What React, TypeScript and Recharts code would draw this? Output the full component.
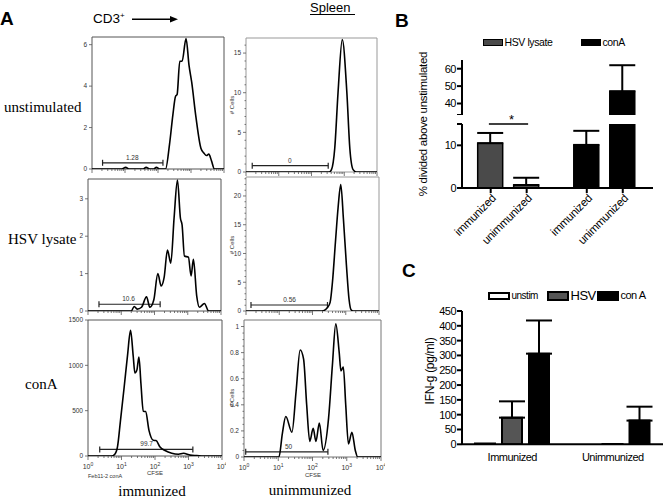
import React from "react";
import {
  LineChart,
  Line,
  XAxis,
  YAxis,
  ReferenceArea,
  ReferenceLine,
  ReferenceDot,
  BarChart,
  Bar,
  Cell,
  ErrorBar,
  Legend,
} from "recharts";

const SANS = "Liberation Sans, Arial, sans-serif";
const SERIF = "Liberation Serif, Times New Roman, serif";

// ---- Panel A: CFSE histograms, [log10(CFSE), # cells] ----
const unstimImmunized: [number, number][] = [
  [0, 0], [0.9, 0], [1.02, 0.08], [1.12, 0], [1.55, 0], [1.64, 0.08], [1.75, 0], [1.87, 0],
  [1.95, 0.08], [2.05, 0], [2.23, 0], [2.35, 1.2], [2.45, 2.6], [2.53, 3.5], [2.58, 3.6],
  [2.66, 5.2], [2.73, 5.2], [2.85, 6.3], [2.94, 5.0], [3.02, 4.2], [3.15, 2.5], [3.3, 1.0],
  [3.39, 0.77], [3.47, 0.65], [3.54, 0.72], [3.62, 0.4], [3.71, 0], [4, 0],
];
const hsvImmunized: [number, number][] = [
  [0, 0], [1.3, 0], [1.39, 0.12], [1.48, 0.05], [1.61, 0.1], [1.76, 0.38], [1.86, 0.1],
  [1.98, 0.3], [2.1, 1.0], [2.2, 0.67], [2.29, 0.9], [2.39, 1.63], [2.49, 1.28], [2.59, 2.5],
  [2.69, 3.5], [2.78, 2.48], [2.83, 2.3], [2.9, 1.47], [3.02, 1.44], [3.1, 0.94], [3.17, 1.38],
  [3.27, 0.4], [3.35, 0.1], [3.5, 0.2], [3.63, 0], [4, 0],
];
const conAImmunized: [number, number][] = [
  [0, 0], [0.7, 0], [0.8, 20], [0.88, 100], [0.97, 393], [1.08, 761], [1.18, 1110],
  [1.27, 1386], [1.35, 1100], [1.4, 915], [1.46, 950], [1.52, 1092], [1.58, 800], [1.65, 493],
  [1.72, 490], [1.82, 283], [1.95, 173], [2.03, 170], [2.15, 100], [2.3, 60], [2.5, 30],
  [2.7, 20], [2.85, 30], [3.05, 10], [3.25, 5], [3.45, 0], [4, 0],
];
const unstimUnimmunized: [number, number][] = [
  [0, 0], [2.54, 0], [2.61, 0.3], [2.71, 3], [2.81, 10], [2.94, 16.7], [3.08, 10], [3.17, 3],
  [3.27, 0.3], [3.37, 0], [4, 0],
];
const hsvUnimmunized: [number, number][] = [
  [0, 0], [2.28, 0], [2.38, 0.2], [2.45, 0.6], [2.53, 1.5], [2.6, 5], [2.69, 12], [2.77, 18],
  [2.85, 22], [2.93, 16], [3.02, 8], [3.1, 2], [3.16, 0.2], [3.22, 0], [4, 0],
];
const conAUnimmunized: [number, number][] = [
  [0, 0], [1.02, 0], [1.12, 0.18], [1.22, 0.31], [1.4, 0.19], [1.52, 0.5], [1.64, 0.82],
  [1.74, 0.75], [1.83, 0.4], [1.92, 0.12], [2.02, 0.22], [2.1, 0.12], [2.2, 0.26], [2.31, 0.05],
  [2.47, 0.3], [2.58, 0.7], [2.68, 1.02], [2.78, 0.8], [2.83, 0.66], [2.9, 0.69], [2.97, 0.4],
  [3.05, 0.1], [3.15, 0.19], [3.25, 0.05], [3.32, 0], [4, 0],
];
// gates: [from, to, level, label, label position]
const gates = {
  unstimImm: [0.32, 2.15, 0.3, "1.28", 1.22],
  hsvImm: [0.33, 2.17, 0.18, "10.6", 1.22],
  conAImm: [0.35, 3.13, 73, "99.7", 1.75],
  unstimUnimm: [0.19, 2.51, 0.8, "0", 1.34],
  hsvUnimm: [0.15, 2.45, 1.04, "0.56", 1.31],
  conAUnimm: [0.05, 2.45, 0.04, "50", 1.3],
} as const;

const logMajors = [0, 1, 2, 3, 4];
const logMinors: number[] = [];
for (let d = 0; d < 4; d++) for (let k = 2; k <= 9; k++) logMinors.push(d + Math.log10(k));

// ---- Panel B ----
const bCats = ["immunized", "unimmunized", "immunized", "unimmunized"];
const bPos = [1, 2, 3.67, 4.67];
const bValues = [10.5, 0.7, 10.1, 47];
const bErrors = [2.4, 1.7, 3.3, 15];
const bColors = ["#4a4a4a", "#4a4a4a", "#000000", "#000000"];
const bLegend = ["HSV lysate", "conA"];
const bLegendColors = ["#4a4a4a", "#000000"];

// ---- Panel C ----
const cGroups = ["Immunized", "Unimmunized"];
const cUnstim = [3, 0];
const cHsv = [90, 1];
const cConA = [306, 80];
const cHsvErr = [55, 0];
const cConAErr = [112, 47];

function LogTick(props: any) {
  const { x, y, payload, showLabel } = props;
  const v = payload.value;
  const major = Math.abs(v - Math.round(v)) < 1e-6;
  return (
    <g>
      <line x1={x} x2={x} y1={y} y2={y + (major ? 4 : 2)} stroke="#555" strokeWidth={0.8} />
      {showLabel && major && (
        <text x={x} y={y + 13} textAnchor="middle" fontSize={7} fill="#333" fontFamily={SANS}>
          10
          <tspan dy={-3} fontSize={5}>
            {Math.round(v)}
          </tspan>
        </text>
      )}
    </g>
  );
}

function YTick(props: any) {
  const { x, y, payload, majors, fmt } = props;
  const v = payload.value;
  const major = majors.some((m: number) => Math.abs(m - v) < 1e-9);
  return (
    <g>
      <line x1={x - (major ? 3 : 1.5)} x2={x} y1={y} y2={y} stroke="#555" strokeWidth={0.8} />
      {major && (
        <text x={x - 5} y={y} dy="0.35em" textAnchor="end" fontSize={6.5} fill="#333" fontFamily={SANS}>
          {fmt ? fmt(v) : String(v)}
        </text>
      )}
    </g>
  );
}

type HistProps = {
  frame: { x0: number; x1: number; y0: number; y1: number };
  ymax: number;
  majors: number[];
  minorStep?: number;
  fmt?: (v: number) => string;
  points: [number, number][];
  gate: readonly [number, number, number, string, number];
  xLabels?: boolean;
  frameColor: string;
};

function Histogram({ frame, ymax, majors, minorStep, fmt, points, gate, xLabels, frameColor }: HistProps) {
  const YW = 26, PT = 3, PR = 4, XH = xLabels ? 20 : 8;
  const pw = frame.x1 - frame.x0;
  const ph = frame.y1 - frame.y0;
  const data = points.map(([x, y]) => ({ x, y }));
  const yTicks = [...majors];
  if (minorStep) {
    for (let v = minorStep; v < ymax; v += minorStep) {
      if (!majors.some((m) => Math.abs(m - v) < 1e-6)) yTicks.push(+v.toFixed(4));
    }
  }
  const [g0, g1, lvl, lab, labX] = gate;
  const cap = (3 * ymax) / ph;
  return (
    <div style={{ position: "absolute", left: frame.x0 - YW, top: frame.y0 - PT }}>
      <LineChart
        width={YW + pw + PR}
        height={PT + ph + XH}
        data={data}
        margin={{ top: PT, right: PR, bottom: 0, left: 0 }}
      >
        <XAxis
          type="number"
          dataKey="x"
          domain={[0, 4]}
          ticks={[...logMajors, ...logMinors]}
          interval={0}
          tickSize={0}
          tickMargin={0}
          axisLine={false}
          tickLine={false}
          height={XH}
          allowDataOverflow
          tick={<LogTick showLabel={!!xLabels} />}
        />
        <YAxis
          type="number"
          domain={[0, ymax]}
          ticks={yTicks}
          interval={0}
          width={YW}
          tickSize={0}
          tickMargin={0}
          axisLine={false}
          tickLine={false}
          allowDataOverflow
          tick={<YTick majors={majors} fmt={fmt} />}
        />
        <ReferenceArea x1={0} x2={4} y1={0} y2={ymax} fill="none" fillOpacity={0} stroke={frameColor} strokeWidth={1} ifOverflow="visible" />
        <ReferenceLine segment={[{ x: g0, y: lvl }, { x: g1, y: lvl }]} stroke="#222" strokeWidth={1.2} ifOverflow="visible" />
        <ReferenceLine segment={[{ x: g0, y: lvl - cap }, { x: g0, y: lvl + cap }]} stroke="#222" strokeWidth={1.2} ifOverflow="visible" />
        <ReferenceLine segment={[{ x: g1, y: lvl - cap }, { x: g1, y: lvl + cap }]} stroke="#222" strokeWidth={1.2} ifOverflow="visible" />
        <ReferenceDot
          x={labX}
          y={lvl}
          r={0}
          fill="none"
          stroke="none"
          ifOverflow="visible"
          label={{ value: lab, position: "top", offset: 3, fontSize: 6.5, fill: "#333", fontFamily: SANS }}
        />
        <Line type="monotone" dataKey="y" stroke="#000" strokeWidth={1.6} dot={false} isAnimationActive={false} />
      </LineChart>
    </div>
  );
}

function RotTick(props: any) {
  const { x, y, index } = props;
  return (
    <g transform={`translate(${x + 6},${y + 4})`}>
      <text x={0} y={0} textAnchor="end" fontSize={11.5} letterSpacing={-0.3} fill="#000" fontFamily={SANS} transform="rotate(-45)">
        {bCats[index]}
      </text>
    </g>
  );
}

function BLegend() {
  const xs = [61, 159];
  return (
    <div style={{ position: "relative", width: 230, height: 14 }}>
      {bLegend.map((name, i) => (
        <div key={name} style={{ position: "absolute", left: xs[i], top: 3, display: "flex", alignItems: "center" }}>
          <div style={{ width: 18, height: 5, background: bLegendColors[i], border: "1.5px solid #000" }} />
          <span style={{ fontFamily: SANS, fontSize: 10.5, letterSpacing: -0.4, marginLeft: 1.5, lineHeight: "11px" }}>{name}</span>
        </div>
      ))}
    </div>
  );
}

function CLegend() {
  const items = [
    { name: "unstim", fill: "#fff", left: 66, size: 10 },
    { name: "HSV", fill: "#555", left: 125, size: 13 },
    { name: "con A", fill: "#000", left: 175, size: 11 },
  ];
  return (
    <div style={{ position: "relative", width: 240, height: 16 }}>
      {items.map((it) => (
        <div key={it.name} style={{ position: "absolute", left: it.left, top: 2, display: "flex", alignItems: "center" }}>
          <div style={{ width: 18, height: it.fill === "#fff" ? 4 : 6, background: it.fill, border: "2px solid #000" }} />
          <span style={{ fontFamily: SANS, fontSize: it.size, letterSpacing: -0.5, marginLeft: 1.5, lineHeight: "13px" }}>{it.name}</span>
        </div>
      ))}
    </div>
  );
}

export default function App() {
  const bRows = bPos.map((pos, i) => ({
    pos,
    lower: bValues[i],
    lowerErr: bValues[i] + bErrors[i] > 15 ? undefined : [0, bErrors[i]],
    upper: bValues[i] > 33 ? bValues[i] : null,
    upperErr: bValues[i] > 33 ? [0, bErrors[i]] : undefined,
  }));
  const cRows = cGroups.map((group, i) => ({
    group,
    unstim: cUnstim[i],
    hsv: cHsv[i],
    conA: cConA[i],
    hsvErr: cHsvErr[i] ? [0, cHsvErr[i]] : undefined,
    conAErr: [0, cConAErr[i]],
  }));

  const axisStroke = { stroke: "#000", strokeWidth: 2 };
  const tickFont = { fontSize: 11, fill: "#000", fontFamily: SANS, letterSpacing: -0.5 };

  return (
    <div style={{ position: "absolute", left: 0, top: 0, width: 664, height: 499, background: "#fff", overflow: "hidden" }}>
      {/* Panel A */}
      <Histogram frame={{ x0: 92, x1: 224, y0: 37, y1: 169 }} ymax={6.37} majors={[0, 2, 4, 6]} points={unstimImmunized} gate={gates.unstimImm} frameColor="#555" />
      <Histogram frame={{ x0: 88, x1: 221, y0: 179, y1: 311 }} ymax={3.53} majors={[0, 1, 2, 3]} points={hsvImmunized} gate={gates.hsvImm} frameColor="#555" />
      <Histogram frame={{ x0: 88, x1: 222, y0: 320, y1: 456 }} ymax={1500} majors={[0, 500, 1000, 1500]} points={conAImmunized} gate={gates.conAImm} frameColor="#555" xLabels />
      <Histogram frame={{ x0: 246, x1: 377, y0: 38, y1: 172 }} ymax={16.9} majors={[0, 5, 10, 15]} minorStep={1} points={unstimUnimmunized} gate={gates.unstimUnimm} frameColor="#999" />
      <Histogram frame={{ x0: 246, x1: 379, y0: 177, y1: 311 }} ymax={23.3} majors={[0, 5, 10, 15, 20]} minorStep={1} points={hsvUnimmunized} gate={gates.hsvUnimm} frameColor="#999" />
      <Histogram
        frame={{ x0: 244, x1: 381, y0: 320, y1: 457 }}
        ymax={1.05}
        majors={[0, 0.2, 0.4, 0.6, 0.8, 1]}
        minorStep={0.05}
        fmt={(v) => (v === 0 ? "0" : v === 1 ? "1" : v.toFixed(1))}
        points={conAUnimmunized}
        gate={gates.conAUnimm}
        frameColor="#777"
        xLabels
      />

      {/* Panel B upper segment */}
      <div style={{ position: "absolute", left: 422, top: 30 }}>
        <BarChart width={237} height={85} data={bRows} margin={{ top: 30, right: 6, bottom: 0, left: 0 }}>
          <XAxis type="number" dataKey="pos" domain={[0.203, 5.51]} ticks={bPos} hide allowDataOverflow />
          <YAxis
            type="number"
            domain={[33.4, 65]}
            ticks={[33.4, 40, 50, 60]}
            interval={0}
            tickFormatter={(v) => (v < 35 ? "" : String(v))}
            width={40}
            allowDataOverflow
            axisLine={axisStroke}
            tickLine={axisStroke}
            tickSize={5}
            tickMargin={1}
            tick={tickFont}
          />
          <Legend layout="horizontal" verticalAlign="middle" align="center" wrapperStyle={{ top: 4, left: 0 }} content={() => <BLegend />} />
          <Bar dataKey="upper" barSize={25} stroke="#000" strokeWidth={1.5} isAnimationActive={false}>
            {bRows.map((_, i) => (
              <Cell key={i} fill={bColors[i]} />
            ))}
            <ErrorBar dataKey="upperErr" width={13} strokeWidth={2} stroke="#000" direction="y" />
          </Bar>
        </BarChart>
      </div>

      {/* Panel B lower segment */}
      <div style={{ position: "absolute", left: 422, top: 110 }}>
        <BarChart width={237} height={148} data={bRows} margin={{ top: 14, right: 6, bottom: 0, left: 0 }}>
          <XAxis
            type="number"
            dataKey="pos"
            domain={[0.203, 5.51]}
            ticks={bPos}
            interval={0}
            allowDataOverflow
            height={70}
            axisLine={axisStroke}
            tickLine={axisStroke}
            tickSize={5}
            tickMargin={2}
            tick={<RotTick />}
          />
          <YAxis
            type="number"
            domain={[0, 15]}
            ticks={[0, 10, 15]}
            interval={0}
            tickFormatter={(v) => (v === 15 ? "" : String(v))}
            width={40}
            allowDataOverflow
            axisLine={axisStroke}
            tickLine={axisStroke}
            tickSize={5}
            tickMargin={1}
            tick={tickFont}
          />
          <Bar dataKey="lower" barSize={25} stroke="#000" strokeWidth={1.5} isAnimationActive={false}>
            {bRows.map((_, i) => (
              <Cell key={i} fill={bColors[i]} />
            ))}
            <ErrorBar dataKey="lowerErr" width={13} strokeWidth={2} stroke="#000" direction="y" />
          </Bar>
          <ReferenceLine segment={[{ x: 0.95, y: 15 }, { x: 2.04, y: 15 }]} stroke="#000" strokeWidth={1.5} ifOverflow="visible" />
          <ReferenceDot
            x={1.58}
            y={15}
            r={0}
            fill="none"
            stroke="none"
            ifOverflow="visible"
            label={{ value: "*", position: "top", offset: 0, fontSize: 13, fill: "#000", fontFamily: SANS }}
          />
        </BarChart>
      </div>

      {/* Panel C */}
      <div style={{ position: "absolute", left: 422, top: 271 }}>
        <BarChart width={242} height={196} data={cRows} margin={{ top: 40, right: 1, bottom: 0, left: 0 }} barGap={7}>
          <XAxis
            dataKey="group"
            height={22.7}
            axisLine={axisStroke}
            tickLine={false}
            tickMargin={3}
            tick={tickFont}
            interval={0}
          />
          <YAxis
            type="number"
            domain={[0, 450]}
            ticks={[0, 50, 100, 150, 200, 250, 300, 350, 400, 450]}
            interval={0}
            width={40}
            allowDataOverflow
            axisLine={axisStroke}
            tickLine={axisStroke}
            tickSize={5}
            tickMargin={1}
            tick={tickFont}
          />
          <Legend layout="horizontal" verticalAlign="middle" align="center" wrapperStyle={{ top: 16, left: 0 }} content={() => <CLegend />} />
          <Bar dataKey="unstim" barSize={20} fill="#fff" stroke="#000" strokeWidth={2} isAnimationActive={false} />
          <Bar dataKey="hsv" barSize={20} fill="#555" stroke="#000" strokeWidth={2} isAnimationActive={false}>
            <ErrorBar dataKey="hsvErr" width={13} strokeWidth={2} stroke="#000" direction="y" />
          </Bar>
          <Bar dataKey="conA" barSize={20} fill="#000" stroke="#000" strokeWidth={2} isAnimationActive={false}>
            <ErrorBar dataKey="conAErr" width={13} strokeWidth={2} stroke="#000" direction="y" />
          </Bar>
        </BarChart>
      </div>

      {/* Labels */}
      <svg width={664} height={499} style={{ position: "absolute", left: 0, top: 0, pointerEvents: "none" }}>
        <text x={0} y={25} fontSize={19} fontWeight="bold" fontFamily={SANS}>A</text>
        <text x={395} y={27} fontSize={19} fontWeight="bold" fontFamily={SANS}>B</text>
        <text x={402} y={277} fontSize={19} fontWeight="bold" fontFamily={SANS}>C</text>

        <text x={93} y={23} fontSize={13.5} fontFamily={SANS}>
          CD3<tspan dy={-5} fontSize={8}>+</tspan>
        </text>
        <line x1={132} y1={19.3} x2={171} y2={19.3} stroke="#000" strokeWidth={1.5} />
        <polygon points="178,19.3 170,16 170,22.6" fill="#000" />

        <text x={310} y={12} fontSize={13} fontFamily={SANS}>Spleen</text>
        <line x1={310} y1={14.5} x2={355} y2={14.5} stroke="#000" strokeWidth={1} />

        <text x={4} y={112} fontSize={15} fontFamily={SERIF}>unstimulated</text>
        <text x={8} y={244} fontSize={15} fontFamily={SERIF}>HSV lysate</text>
        <text x={25} y={389} fontSize={15} fontFamily={SERIF}>conA</text>
        <text x={152} y={496} fontSize={15} fontFamily={SERIF} textAnchor="middle">immunized</text>
        <text x={310} y={495} fontSize={15} fontFamily={SERIF} textAnchor="middle">unimmunized</text>

        <text x={88} y={478} fontSize={5.5} fill="#333" fontFamily={SANS}>Feb11-2 conA</text>
        <text x={155} y={475} fontSize={6} fill="#333" fontFamily={SANS} textAnchor="middle">CFSE</text>
        <text x={313} y={477} fontSize={6} fill="#333" fontFamily={SANS} textAnchor="middle">CFSE</text>

        {[105, 245, 398].map((cy) => (
          <text key={cy} x={0} y={0} fontSize={6} fill="#333" fontFamily={SANS} textAnchor="middle" transform={`translate(234 ${cy}) rotate(-90)`}>
            # Cells
          </text>
        ))}

        <text x={0} y={0} fontSize={11.5} fontFamily={SANS} letterSpacing={-0.3} textAnchor="middle" transform="translate(427 124) rotate(-90)">
          % divided above unstimulated
        </text>
        <text x={0} y={0} fontSize={12} fontFamily={SANS} letterSpacing={-0.3} textAnchor="middle" transform="translate(434 371) rotate(-90)">
          IFN-g (pg/ml)
        </text>
      </svg>
    </div>
  );
}
